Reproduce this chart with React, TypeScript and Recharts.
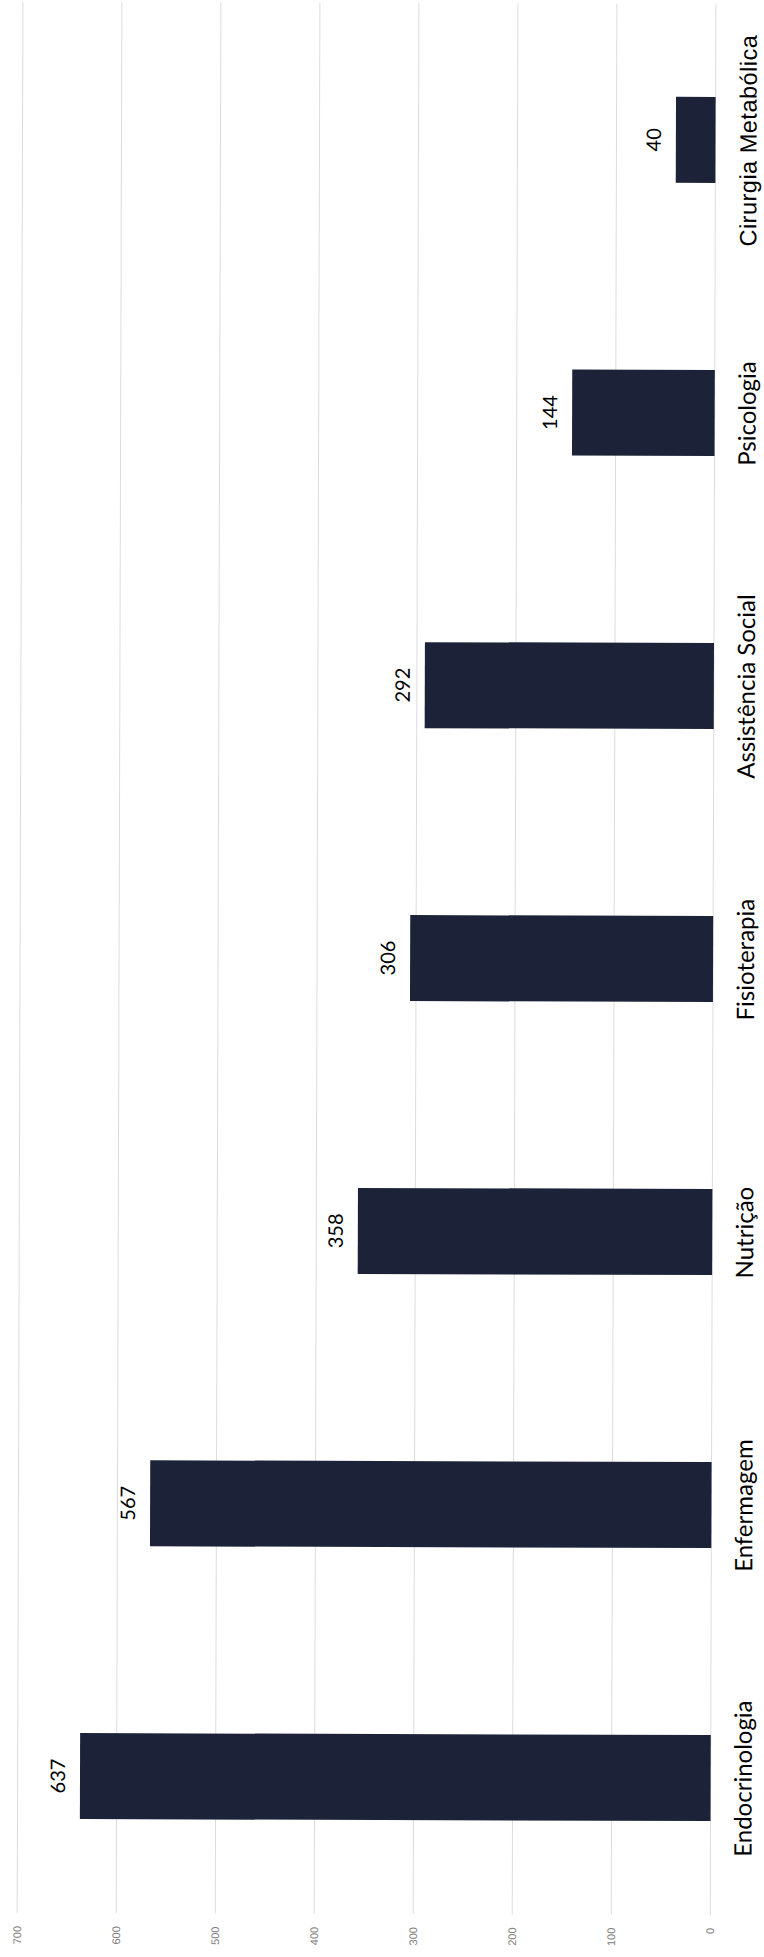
import React from 'react';
import { BarChart, Bar, XAxis, YAxis, CartesianGrid, LabelList } from 'recharts';

const categories = [
  'Endocrinologia',
  'Enfermagem',
  'Nutrição',
  'Fisioterapia',
  'Assistência Social',
  'Psicologia',
  'Cirurgia Metabólica',
];
const values = [637, 567, 358, 306, 292, 144, 40];
const valueTicks = [0, 100, 200, 300, 400, 500, 600, 700];

const data = categories.map((name, i) => ({ name, value: values[i] }));

const CHART_W = 1957;
const CHART_H = 764;

function CategoryTick(props: any) {
  const { x, y, payload } = props;
  const arial = payload.value === 'Cirurgia Metabólica';
  return (
    <text
      x={x}
      y={y}
      dy={33}
      textAnchor="middle"
      fontFamily={arial ? '"Liberation Sans", Arial, sans-serif' : 'Lato, sans-serif'}
      fontSize={arial ? 23.5 : 24}
      letterSpacing={arial ? 0.5 : 0}
      fill="#000"
    >
      {payload.value}
    </text>
  );
}

export default function App() {
  return (
    <div
      style={{
        position: 'absolute',
        left: 0,
        top: 0,
        width: 764,
        height: 1957,
        overflow: 'hidden',
        background: '#fff',
      }}
    >
      <div
        style={{
          position: 'absolute',
          left: 0,
          top: 0,
          width: CHART_W,
          height: CHART_H,
          transformOrigin: '0 0',
          transform: `translate(382px, 978px) rotate(0.17deg) translate(-382px, -978px) translate(0px, ${CHART_W}px) rotate(-90deg)`,
          background: '#fff',
        }}
      >
        <BarChart
          width={CHART_W}
          height={CHART_H}
          data={data}
          margin={{ top: 20, right: 3, bottom: 0, left: 0 }}
          barSize={86}
        >
          <CartesianGrid vertical={false} stroke="#dcdcdc" />
          <XAxis
            dataKey="name"
            axisLine={false}
            tickLine={false}
            height={51}
            interval={0}
            tick={(p: any) => <CategoryTick {...p} />}
          />
          <YAxis
            domain={[0, 700]}
            ticks={valueTicks}
            axisLine={false}
            tickLine={false}
            width={43}
            tickMargin={7}
            tick={{ fontSize: 11, fill: '#808080', fontFamily: '"Liberation Sans", Arial, sans-serif' }}
          />
          <Bar dataKey="value" fill="#1c2338" isAnimationActive={false}>
            <LabelList
              dataKey="value"
              position="top"
              offset={15}
              fill="#000"
              fontSize={20}
              fontFamily="Lato, sans-serif"
            />
          </Bar>
        </BarChart>
      </div>
    </div>
  );
}
